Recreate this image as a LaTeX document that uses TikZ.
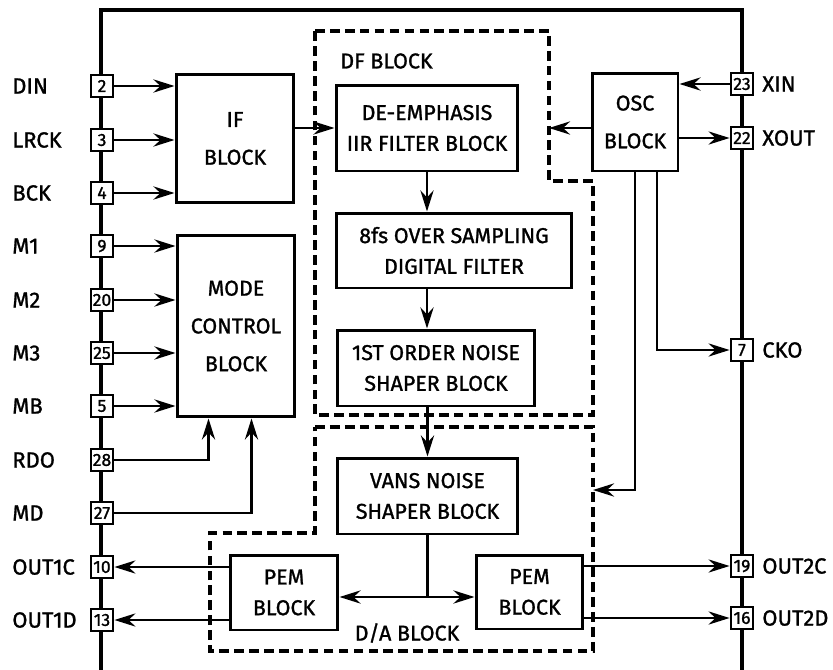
\documentclass[tikz,border=0pt]{standalone}
\usepackage{fontspec}
\setmainfont{Fira Sans}[FakeBold=1.2]
\usetikzlibrary{arrows.meta}
\tikzset{
  blk/.style={draw, line width=1.7pt, align=center, inner sep=0pt, font=\fontsize{12.2}{17.5}\selectfont},
  tallblk/.style={blk, font=\fontsize{12.2}{21.5}\selectfont},
  pinbox/.style={draw, fill=white, line width=1.6pt, minimum size=0.44cm, inner sep=0pt, font=\fontsize{10}{10}\selectfont},
  sig/.style={line width=1.5pt, -{Stealth[length=12pt,width=7.5pt,inset=4pt]}},
  wire/.style={line width=1.5pt},
  grp/.style={line width=2pt, dash pattern=on 5.5pt off 3pt},
  lbl/.style={inner sep=0pt, font=\fontsize{12.5}{14}\selectfont}
}
\begin{document}
\begin{tikzpicture}[x=0.02cm, y=-0.02cm]
\useasboundingbox (0,0) rectangle (833,670);
% package outline
\draw[line width=1.9pt] (101,670) -- (101,10) -- (742,10) -- (742,670);
% pins
\foreach \pn/\lab/\y in {2/DIN/86, 3/LRCK/140, 4/BCK/193, 9/M1/246, 20/M2/300, 25/M3/353, 5/MB/406, 28/RDO/460, 27/MD/513, 10/OUT1C/567, 13/OUT1D/620} {
  \node[pinbox] (p\pn) at (102,\y) {\pn};
  \node[lbl, anchor=west] (l\pn) at (12,\y) {\lab};
}
\foreach \pn/\lab/\y in {23/XIN/84, 22/XOUT/138, 7/CKO/350, 19/OUT2C/566, 16/OUT2D/618} {
  \node[pinbox] (p\pn) at (742,\y) {\pn};
  \node[lbl, anchor=west] (l\pn) at (762,\y) {\lab};
}
% blocks
\node[tallblk, minimum width=2.36cm, minimum height=2.58cm] (ifb) at (235,138.5) {IF\\BLOCK};
\node[tallblk, minimum width=2.36cm, minimum height=3.64cm] (mode) at (236,326) {MODE\\CONTROL\\BLOCK};
\node[tallblk, minimum width=1.72cm, minimum height=1.96cm] (osc) at (635,122) {OSC\\BLOCK};
\node[blk, minimum width=3.64cm, minimum height=1.72cm] (de) at (427,128) {DE-EMPHASIS\\IIR FILTER BLOCK};
\node[blk, minimum width=4.72cm, minimum height=1.5cm] (ofs) at (454,250.5) {8fs OVER SAMPLING\\DIGITAL FILTER};
\node[blk, minimum width=3.96cm, minimum height=1.52cm] (nsh) at (436,368) {1ST ORDER NOISE\\SHAPER BLOCK};
\node[blk, minimum width=3.62cm, minimum height=1.52cm] (vans) at (427.5,496) {VANS NOISE\\SHAPER BLOCK};
\node[blk, minimum width=2.16cm, minimum height=1.5cm] (pem1) at (284,592.5) {PEM\\BLOCK};
\node[blk, minimum width=2.14cm, minimum height=1.48cm] (pem2) at (529.5,592) {PEM\\BLOCK};
% dashed groups
\draw[grp] (315,31) -- (549,31) -- (549,181) -- (593,181) -- (593,415) -- (315,415) -- cycle;
\draw[grp] (315,427) -- (593,427) -- (593,651) -- (210,651) -- (210,533) -- (315,533) -- cycle;
\coordinate (dfe) at (549,128);
\coordinate (dae) at (593,490);
\coordinate (vj) at (427.5,597);
\node[lbl, anchor=west, font=\fontsize{12.2}{13}\selectfont] (dft) at (340,61) {DF BLOCK};
\node[lbl, font=\fontsize{12.2}{13}\selectfont] (dat) at (407,633) {D/A BLOCK};
% inputs
\foreach \pn in {2,3,4} \draw[sig] (p\pn.east) -- (p\pn.east -| ifb.west);
\foreach \pn in {9,20,25,5} \draw[sig] (p\pn.east) -- (p\pn.east -| mode.west);
\draw[sig] (p28.east) -| ([xshift=0.66cm]mode.south west);
\draw[sig] (p27.east) -| ([xshift=1.52cm]mode.south west);
\draw[sig] (ifb.east |- de.west) -- (de.west);
% filter chain
\draw[sig] (de.south) -- (de.south |- ofs.north);
\draw[sig] (ofs.south -| de.south) -- (de.south |- nsh.north);
\draw[sig] (nsh.south -| vans.north) -- (vans.north);
\draw[wire] (vans.south) -- (vj);
\draw[sig] (vj) -- (vj -| pem1.east);
\draw[sig] (vj) -- (vj -| pem2.west);
% outputs
\draw[sig] (pem1.west |- p10) -- (p10.east);
\draw[sig] (pem1.west |- p13) -- (p13.east);
\draw[sig] (pem2.east |- p19) -- (p19.west);
\draw[sig] (pem2.east |- p16) -- (p16.west);
% oscillator
\draw[sig] (p23.west) -- (p23.west -| osc.east);
\draw[sig] (osc.east |- p22) -- (p22.west);
\draw[sig] (osc.west |- dfe) -- (dfe);
\draw[sig] (osc.south) |- (dae);
\draw[sig] ([xshift=0.44cm]osc.south) |- (p7.west);
\end{tikzpicture}
\end{document}
